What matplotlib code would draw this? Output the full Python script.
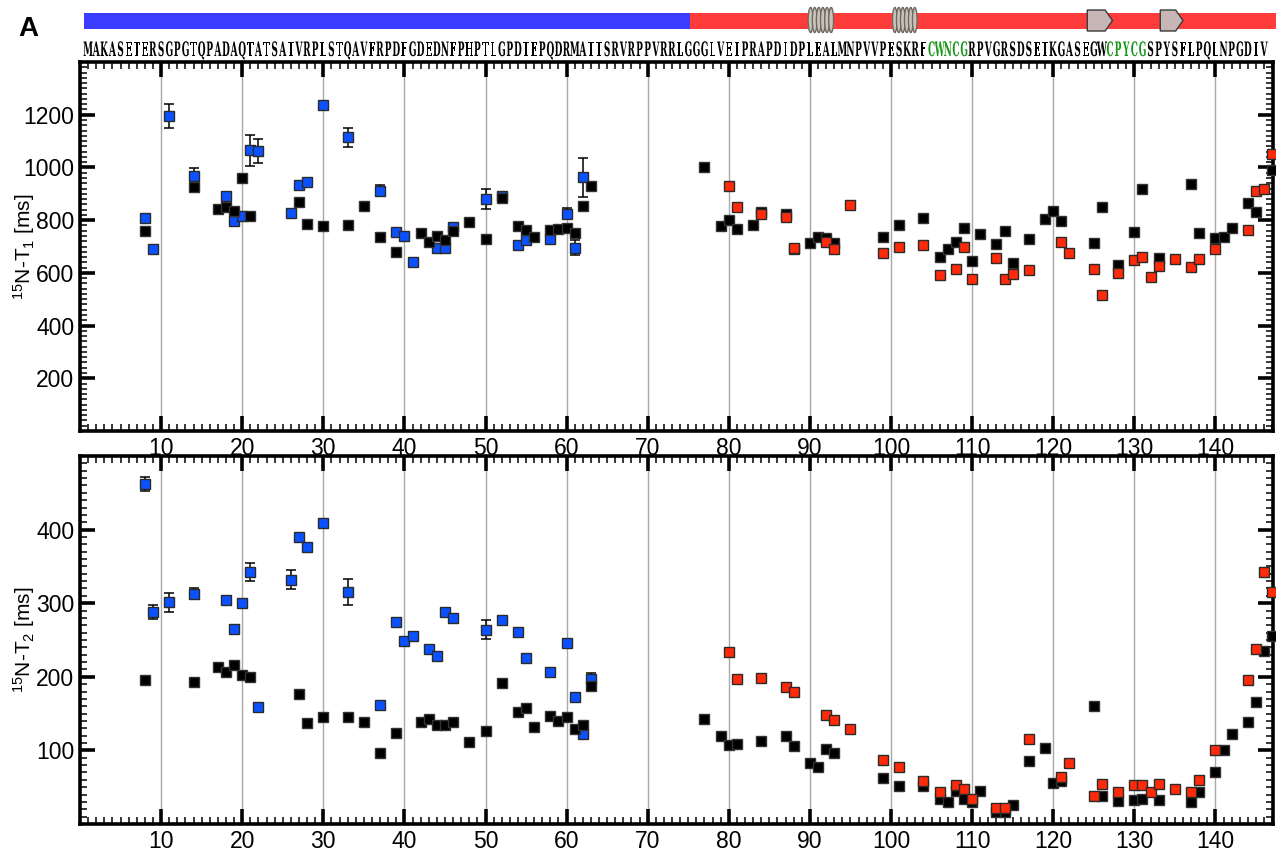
import numpy as np
import matplotlib
matplotlib.use('Agg')
import matplotlib.pyplot as plt
from matplotlib.patches import Rectangle, Polygon, Ellipse, PathPatch
from matplotlib.textpath import TextPath
from matplotlib.font_manager import FontProperties
from matplotlib.transforms import Affine2D
from matplotlib.ticker import MultipleLocator

# ---------------- data ----------------
sequence = ("MAKASETERSGPGTQPADAQTATSATVRPLSTQAVFRPDFGDEDNFPHPTLGPDTEPQDR"
            "MATTSRVRPPVRRLGGGLVEIPRAPDIDPLEALMNPVVPESKRFCWNCGRPVGRSDSETK"
            "GASEGWCPYCGSPYSFLPQLNPGDIV")
green_motifs = [(105, 109), (127, 131)]
domain_boundary = 75.2
helices = [(89.8, 92.9), (100.2, 103.2)]
strands = [(124.2, 127.3), (133.2, 136.0)]

t1_black_res = [8, 14, 17, 18, 19, 20, 21, 27, 28, 30, 33, 35, 37, 39, 42, 43, 44, 45, 46, 48,
                50, 52, 54, 55, 56, 58, 59, 60, 61, 62, 63, 77, 79, 80, 81, 83, 84, 87, 88, 90,
                91, 92, 93, 99, 101, 104, 106, 107, 108, 109, 110, 111, 113, 114, 115, 117, 119,
                120, 121, 125, 126, 128, 130, 131, 133, 137, 138, 140, 141, 142, 144, 145, 147]
t1_black_val = [759, 926, 844, 849, 834, 959, 817, 869, 784, 778, 780, 853, 737, 680, 750, 718, 741, 726, 757, 793,
                728, 885, 776, 762, 736, 762, 765, 772, 751, 855, 928, 1003, 779, 801, 768, 783, 831, 825, 692, 713,
                737, 732, 714, 735, 782, 810, 660, 690, 718, 769, 646, 749, 709, 760, 638, 727, 806,
                835, 797, 712, 848, 629, 756, 917, 657, 938, 751, 731, 735, 771, 865, 829, 990]

t1_blue_res = [8, 9, 11, 14, 18, 19, 20, 21, 22, 26, 27, 28, 30, 33, 37, 39, 40, 41, 44, 45,
               46, 50, 52, 54, 55, 58, 60, 61, 62]
t1_blue_val = [808, 689, 1195, 969, 891, 798, 815, 1065, 1061, 826, 934, 943, 1235, 1115, 912, 754, 738, 640, 696, 696,
               774, 882, 891, 705, 724, 729, 825, 695, 963]
t1_blue_err = [0, 0, 47, 28, 0, 0, 0, 58, 45, 15, 0, 0, 0, 36, 21, 0, 0, 0, 0, 0,
               0, 38, 0, 0, 0, 0, 20, 28, 74]

t1_red_res = [80, 81, 84, 87, 88, 92, 93, 95, 99, 101, 104, 106, 108, 109, 110, 113, 114, 115, 117, 121,
              122, 125, 126, 128, 130, 131, 132, 133, 135, 137, 138, 140, 144, 145, 146, 147]
t1_red_val = [931, 849, 824, 813, 696, 718, 689, 858, 675, 700, 705, 590, 616, 698, 576, 658, 578, 596, 611, 716,
              676, 615, 515, 601, 647, 660, 586, 625, 652, 622, 652, 691, 761, 909, 920, 1050]

t2_black_res = [8, 14, 17, 18, 19, 20, 21, 27, 28, 30, 33, 35, 37, 39, 42, 43, 44, 45, 46, 48,
                50, 52, 54, 55, 56, 58, 59, 60, 61, 62, 63, 77, 79, 80, 81, 84, 87, 88, 90, 91,
                92, 93, 99, 101, 104, 106, 107, 108, 109, 110, 111, 113, 114, 115, 117, 119, 120,
                121, 125, 126, 128, 130, 131, 133, 137, 138, 140, 141, 142, 144, 145, 146, 147]
t2_black_val = [195, 193, 213, 206, 216, 202, 200, 177, 137, 146, 145, 138, 96, 123, 138, 143, 134, 134, 139, 111,
                127, 192, 152, 157, 132, 147, 140, 146, 129, 134, 187, 143, 120, 107, 109, 113, 119, 106, 83, 78,
                102, 97, 62, 51, 51, 34, 30, 45, 34, 30, 45, 16, 16, 26, 86, 103, 56,
                59, 160, 38, 31, 33, 34, 32, 30, 43, 71, 101, 122, 138, 166, 235, 255]

t2_blue_res = [8, 9, 11, 14, 18, 19, 20, 21, 22, 26, 27, 28, 30, 33, 37, 39, 40, 41, 43, 44,
               45, 46, 50, 52, 54, 55, 58, 60, 61, 62, 63]
t2_blue_val = [462, 288, 301, 313, 304, 265, 300, 342, 159, 332, 390, 377, 409, 315, 162, 275, 249, 255, 238, 228,
               288, 280, 264, 277, 261, 225, 207, 246, 172, 122, 197]
t2_blue_err = [10, 9.5, 12.5, 7, 0, 0, 0, 12, 5, 13, 0, 0, 0, 18, 0, 0, 0, 0, 0, 0,
               0, 0, 12.5, 0, 0, 0, 0, 0, 0, 0, 8]

t2_red_res = [80, 81, 84, 87, 88, 92, 93, 95, 99, 101, 104, 106, 108, 109, 110, 113, 114, 117, 121, 122,
              125, 126, 128, 130, 131, 132, 133, 135, 137, 138, 140, 144, 145, 146, 147]
t2_red_val = [234, 197, 198, 186, 179, 148, 141, 129, 87, 77, 59, 43, 53, 47, 34, 22, 22, 115, 64, 83,
              38, 55, 43, 53, 53, 44, 55, 47, 44, 60, 100, 195, 238, 342, 315]

x_ticks = list(range(10, 141, 10))

# ---------------- style ----------------
plt.rcParams['font.family'] = ['Liberation Sans', 'DejaVu Sans']
plt.rcParams['mathtext.fontset'] = 'custom'
plt.rcParams['mathtext.rm'] = 'Liberation Sans'
plt.rcParams['mathtext.it'] = 'Liberation Sans:italic'
plt.rcParams['mathtext.bf'] = 'Liberation Sans:bold'
plt.rcParams['mathtext.default'] = 'regular'

BLUE = '#0a52ff'
RED = '#ff2a0a'
EDGE = '#2a2a2a'
BAR_BLUE = '#3c3cff'
BAR_RED = '#ff3c3c'
GREEN = '#1a961a'

W, H = 1276, 851
fig = plt.figure(figsize=(W / 100, H / 100), dpi=100)

def px_axes(left, top, right, bottom):
    return fig.add_axes([left / W, 1 - bottom / H, (right - left) / W, (bottom - top) / H])

XMAX = 147.1
ax1 = px_axes(80, 62, 1273, 431)
ax2 = px_axes(80, 456, 1273, 824)

def style(ax, ymax, yticks, yminor, ylabel):
    ax.set_xlim(0, XMAX)
    ax.set_ylim(0, ymax)
    ax.set_xticks(x_ticks)
    ax.xaxis.set_minor_locator(MultipleLocator(1))
    ax.set_yticks(yticks)
    ax.yaxis.set_minor_locator(MultipleLocator(yminor))
    for s in ax.spines.values():
        s.set_linewidth(2.6)
    ax.tick_params(which='both', direction='in', top=True, right=True)
    ax.tick_params(which='major', length=11, width=2.6, labelsize=16.5, pad=4)
    ax.tick_params(which='minor', length=5, width=1.1)
    ax.grid(axis='x', which='major', color='#a8a8a8', lw=1.0)
    ax.set_axisbelow(True)
    ax.set_ylabel(ylabel, fontsize=15)
    ax.yaxis.set_label_coords(-0.036, 0.5)

style(ax1, 1400, [200, 400, 600, 800, 1000, 1200], 20, r'$^{15}$N-T$_1$ [ms]')
style(ax2, 500, [100, 200, 300, 400], 10, r'$^{15}$N-T$_2$ [ms]')

MS = 7.2

def draw(ax, bres, bval, bl_res, bl_val, bl_err, r_res, r_val):
    bl_res = np.array(bl_res); bl_val = np.array(bl_val); bl_err = np.array(bl_err, float)
    m = bl_err > 0
    ax.errorbar(bl_res[m], bl_val[m], yerr=bl_err[m], fmt='none', ecolor='black',
                elinewidth=1.1, capsize=3.5, capthick=1.1, zorder=2)
    ax.plot(bl_res, bl_val, 's', color=BLUE, mec=EDGE, mew=1.0, ms=MS, zorder=3, clip_on=False)
    ax.plot(bres, bval, 's', color='black', mec='#333333', mew=1.0, ms=MS, zorder=4, clip_on=False)
    ax.plot(r_res, r_val, 's', color=RED, mec=EDGE, mew=1.0, ms=MS, zorder=5, clip_on=False)

draw(ax1, t1_black_res, t1_black_val, t1_blue_res, t1_blue_val, t1_blue_err, t1_red_res, t1_red_val)
draw(ax2, t2_black_res, t2_black_val, t2_blue_res, t2_blue_val, t2_blue_err, t2_red_res, t2_red_val)

# ---------------- header: domain bar, secondary structure, sequence ----------------
hax = px_axes(80, 0, 1273, 60)
hax.set_xlim(0, XMAX)
hax.set_ylim(60, 0)
hax.set_autoscale_on(False)
hax.axis('off')

hax.add_patch(Rectangle((0.5, 13), domain_boundary - 0.5, 16, fc=BAR_BLUE, ec='none', clip_on=False))
hax.add_patch(Rectangle((domain_boundary, 13), 147.6 - domain_boundary, 16, fc=BAR_RED, ec='none', clip_on=False))

for r0, r1 in helices:
    n = 6
    w = (r1 - r0) / (n - 0.5)
    for k in range(n):
        cx = r0 + w * 0.5 + k * (r1 - r0 - w) / (n - 1)
        hax.add_patch(Ellipse((cx, 20), w * 1.05, 25, fc='#c9c4ba', ec='#6f6a61', lw=1.0, clip_on=False))

for r0, r1 in strands:
    head = 0.9
    pts = [(r0, 10), (r1 - head, 10), (r1, 20.5), (r1 - head, 31), (r0, 31)]
    hax.add_patch(Polygon(pts, closed=True, fc='#c6b6b6', ec='#3a3a3a', lw=1.0, clip_on=False))

fp = FontProperties(family='DejaVu Serif', weight='bold')
cap = TextPath((0, 0), 'H', size=1, prop=fp).get_extents().height
sy = 14.5 / cap
px_per_res = (1273 - 80) / XMAX
sx = 0.45 * sy / px_per_res
baseline = 56

def is_green(i):
    return any(a <= i <= b for a, b in green_motifs)

for i, ch in enumerate(sequence, start=1):
    tp = TextPath((0, 0), ch, size=1, prop=fp)
    ext = tp.get_extents()
    cx = (ext.x0 + ext.x1) / 2
    tr = Affine2D().translate(-cx, 0).scale(sx, -sy).translate(i, baseline) + hax.transData
    hax.add_patch(PathPatch(tp, transform=tr, fc=GREEN if is_green(i) else 'black',
                            ec='none', clip_on=False))

fig.text(18 / W, 1 - 29 / H, 'A', fontsize=20, fontweight='bold', ha='left', va='center')

fig.savefig('out.png', dpi=100)
